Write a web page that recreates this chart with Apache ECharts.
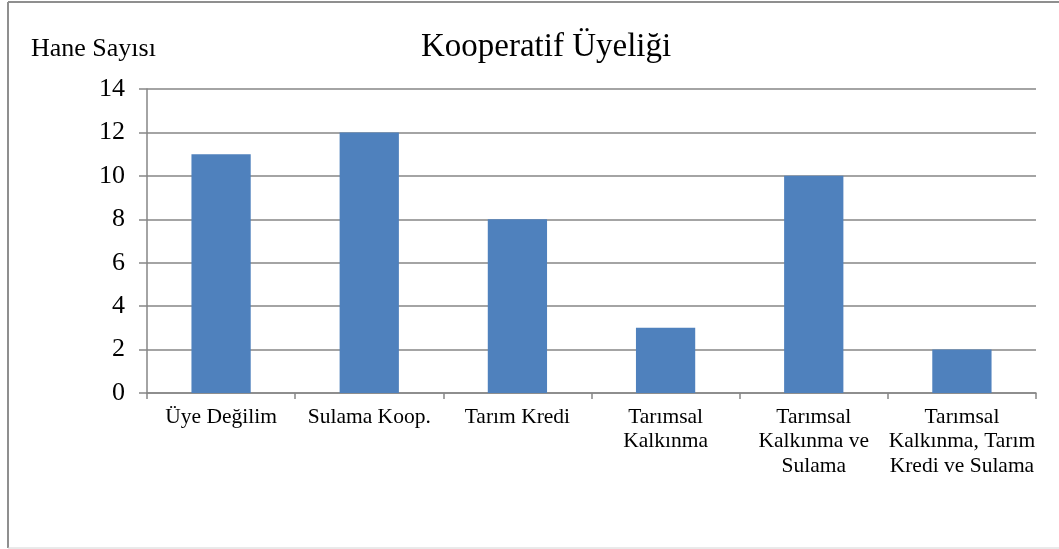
<!DOCTYPE html>
<html><head><meta charset="utf-8">
<script src="https://cdn.jsdelivr.net/npm/echarts@6/dist/echarts.min.js"></script>
<style>html,body{margin:0;padding:0;background:#fff}#c{width:1059px;height:549px}</style>
</head><body><div id="c"></div>
<script>
var chartTitle = 'Kooperatif Üyeliği';
var yAxisTitle = 'Hane Sayısı';
var categories = ['Üye Değilim', 'Sulama Koop.', 'Tarım Kredi', 'Tarımsal\nKalkınma', 'Tarımsal\nKalkınma ve\nSulama', 'Tarımsal\nKalkınma, Tarım\nKredi ve Sulama'];
var households = [11, 12, 8, 3, 10, 2];
var yMin = 0, yMax = 14, yStep = 2;

var font = '"Liberation Serif", "Times New Roman", serif';
var chart = echarts.init(document.getElementById('c'));
chart.setOption({
  animation: false,
  graphic: [
    {type: 'line', shape: {x1: 8, y1: 2, x2: 1070, y2: 2}, style: {stroke: '#8f8f8f', lineWidth: 2}},
    {type: 'line', shape: {x1: 8, y1: 2, x2: 8, y2: 548}, style: {stroke: '#8f8f8f', lineWidth: 2}},
    {type: 'line', shape: {x1: 8, y1: 548, x2: 1070, y2: 548}, style: {stroke: '#d4d4d4', lineWidth: 1}}
  ],
  title: [
    {text: chartTitle, left: 416, top: 26, textStyle: {fontFamily: font, fontWeight: 'normal', fontSize: 33, color: '#000'}},
    {text: yAxisTitle, left: 26, top: 31, textStyle: {fontFamily: font, fontWeight: 'normal', fontSize: 26, color: '#000'}}
  ],
  grid: {left: 147, right: 23, top: 89, bottom: 156},
  xAxis: {
    type: 'category', data: categories,
    axisLine: {lineStyle: {color: '#868686', width: 1.5}},
    axisTick: {show: true, length: 6, lineStyle: {color: '#868686', width: 1.5}},
    axisLabel: {fontFamily: font, fontSize: 21.5, lineHeight: 24.5, color: '#000', margin: 12, interval: 0, align: 'center'}
  },
  yAxis: {
    type: 'value', min: yMin, max: yMax, interval: yStep,
    axisLine: {show: true, lineStyle: {color: '#868686', width: 1.5}},
    axisTick: {show: true, length: 8, lineStyle: {color: '#868686', width: 1.5}},
    splitLine: {lineStyle: {color: '#868686', width: 1.5}},
    axisLabel: {fontFamily: font, fontSize: 26, color: '#000', margin: 22}
  },
  series: [{type: 'bar', data: households, barWidth: '40%', itemStyle: {color: '#4F81BD'}}]
});
</script></body></html>
